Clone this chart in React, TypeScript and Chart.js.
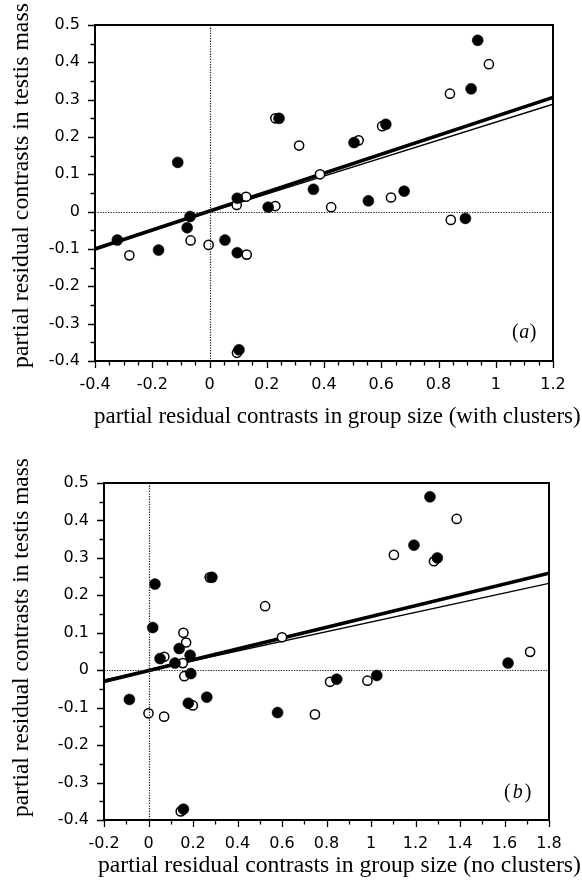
import React, { useEffect, useRef } from "react";
import { Chart, registerables } from "chart.js";
Chart.register(...registerables);

type P = [number, number];

// ---------- Panel (a) data ----------
const aFilled: P[] = [
  [-0.322, -0.076], [-0.178, -0.103], [-0.111, 0.132], [-0.078, -0.043], [-0.068, -0.013],
  [0.054, -0.076], [0.097, -0.11], [0.097, 0.036], [0.205, 0.012], [0.103, -0.37],
  [0.243, 0.25], [0.363, 0.06], [0.505, 0.185], [0.555, 0.029], [0.616, 0.234],
  [0.68, 0.055], [0.894, -0.018], [0.914, 0.329], [0.937, 0.459],
];
const aOpen: P[] = [
  [-0.28, -0.117], [-0.066, -0.077], [-0.003, -0.089], [0.095, 0.018], [0.128, 0.04],
  [0.13, -0.115], [0.096, -0.378], [0.23, 0.015], [0.23, 0.25], [0.313, 0.177],
  [0.386, 0.1], [0.425, 0.012], [0.521, 0.191], [0.603, 0.229], [0.634, 0.038],
  [0.843, -0.022], [0.84, 0.316], [0.976, 0.395],
];
const aThick: P[] = [[-0.4, -0.1], [1.2, 0.306]];
const aThin: P[] = [[-0.4, -0.097], [1.2, 0.288]];
const aXTicks = [-0.4, -0.2, 0, 0.2, 0.4, 0.6, 0.8, 1, 1.2];
const aYTicks = [-0.4, -0.3, -0.2, -0.1, 0, 0.1, 0.2, 0.3, 0.4, 0.5];

// ---------- Panel (b) data ----------
const bFilled: P[] = [
  [-0.086, -0.078], [0.019, 0.114], [0.029, 0.23], [0.052, 0.031], [0.119, 0.019],
  [0.138, 0.058], [0.187, 0.04], [0.19, -0.009], [0.179, -0.088], [0.157, -0.371],
  [0.262, -0.072], [0.285, 0.248], [0.58, -0.113], [0.846, -0.024], [1.026, -0.014],
  [1.193, 0.334], [1.265, 0.463], [1.298, 0.3], [1.616, 0.019],
];
const bOpen: P[] = [
  [0.0, -0.115], [0.07, -0.124], [0.071, 0.036], [0.154, 0.019], [0.157, 0.1],
  [0.169, 0.074], [0.161, -0.016], [0.199, -0.094], [0.145, -0.377], [0.275, 0.248],
  [0.524, 0.171], [0.6, 0.088], [0.748, -0.118], [0.816, -0.031], [0.984, -0.028],
  [1.103, 0.308], [1.283, 0.291], [1.385, 0.404], [1.715, 0.049],
];
const bThick: P[] = [[-0.2, -0.03], [1.8, 0.259]];
const bThin: P[] = [[-0.2, -0.026], [1.8, 0.232]];
const bXTicks = [-0.2, 0, 0.2, 0.4, 0.6, 0.8, 1, 1.2, 1.4, 1.6, 1.8];
const bYTicks = [-0.4, -0.3, -0.2, -0.1, 0, 0.1, 0.2, 0.3, 0.4, 0.5];

const yTitle = "partial residual contrasts in testis mass";
const aXTitle = "partial residual contrasts in group size (with clusters)";
const bXTitle = "partial residual contrasts in group size (no clusters)";

const SERIF = '"Liberation Serif", "Times New Roman", serif';
const SANS = '"DejaVu Sans", sans-serif';

type PanelCfg = {
  filled: P[]; open: P[]; thick: P[]; thin: P[];
  xTicks: number[]; yTicks: number[]; xMinor: number; yMinor: number;
  xTitle: string; letter: string;
  area: { l: number; t: number; r: number; b: number };
  xTitleBox: { x0: number; x1: number; base: number };
  yTitleBox: { cx: number; cy: number; len: number };
  labelPos: { x: number; base: number; gap: number };
};

const W = 582;
const H = 444;

const panelA: PanelCfg = {
  filled: aFilled, open: aOpen, thick: aThick, thin: aThin,
  xTicks: aXTicks, yTicks: aYTicks, xMinor: 0.05, yMinor: 0.05,
  xTitle: aXTitle, letter: "a",
  area: { l: 95, t: 25, r: 553, b: 361 },
  xTitleBox: { x0: 94, x1: 581, base: 423 },
  yTitleBox: { cx: 28, cy: 185.5, len: 365 },
  labelPos: { x: 512, base: 338, gap: 0.5 },
};
const panelB: PanelCfg = {
  filled: bFilled, open: bOpen, thick: bThick, thin: bThin,
  xTicks: bXTicks, yTicks: bYTicks, xMinor: 0.1, yMinor: 0.05,
  xTitle: bXTitle, letter: "b",
  area: { l: 104, t: 39, r: 549, b: 376 },
  xTitleBox: { x0: 98, x1: 581, base: 428 },
  yTitleBox: { cx: 28, cy: 193.5, len: 359 },
  labelPos: { x: 504, base: 354, gap: 2 },
};

const fmt = (v: number) => String(Math.round(v * 10) / 10);

function fitSize(ctx: CanvasRenderingContext2D, text: string, target: number, family: string) {
  ctx.font = `100px ${family}`;
  const w = ctx.measureText(text).width;
  return (100 * target) / w;
}

function makePlugin(cfg: PanelCfg) {
  return {
    id: "decor",
    afterDatasetsDraw(chart: any) {
      const { ctx, chartArea: a, scales } = chart;
      const x = scales.x, y = scales.y;
      ctx.save();
      // dotted zero lines
      ctx.strokeStyle = "#222";
      ctx.lineWidth = 1.2;
      ctx.setLineDash([1.3, 1.3]);
      const x0 = Math.round(x.getPixelForValue(0)) + 0.5;
      const y0 = Math.round(y.getPixelForValue(0)) + 0.5;
      ctx.beginPath();
      ctx.moveTo(x0, a.top); ctx.lineTo(x0, a.bottom);
      ctx.moveTo(a.left, y0); ctx.lineTo(a.right, y0);
      ctx.stroke();
      ctx.setLineDash([]);
      // frame
      ctx.strokeStyle = "#000";
      ctx.lineWidth = 2;
      ctx.strokeRect(a.left, a.top, a.right - a.left, a.bottom - a.top);
      // tick marks
      ctx.lineWidth = 1.3;
      const isMajor = (v: number, arr: number[]) => arr.some((t) => Math.abs(t - v) < 1e-6);
      const xmin = cfg.xTicks[0], xmax = cfg.xTicks[cfg.xTicks.length - 1];
      const nx = Math.round((xmax - xmin) / cfg.xMinor);
      ctx.beginPath();
      for (let i = 0; i <= nx; i++) {
        const v = xmin + i * cfg.xMinor;
        const px = Math.round(x.getPixelForValue(v)) + 0.5;
        const len = isMajor(v, cfg.xTicks) ? 7 : 4.5;
        ctx.moveTo(px, a.bottom);
        ctx.lineTo(px, a.bottom + len);
      }
      const ymin = cfg.yTicks[0], ymax = cfg.yTicks[cfg.yTicks.length - 1];
      const ny = Math.round((ymax - ymin) / cfg.yMinor);
      for (let i = 0; i <= ny; i++) {
        const v = ymin + i * cfg.yMinor;
        const py = Math.round(y.getPixelForValue(v)) + 0.5;
        const len = isMajor(v, cfg.yTicks) ? 7 : 4.5;
        ctx.moveTo(a.left, py);
        ctx.lineTo(a.left - len, py);
      }
      ctx.stroke();
      ctx.restore();
    },
    afterDraw(chart: any) {
      const { ctx } = chart;
      ctx.save();
      ctx.fillStyle = "#000";
      // x title
      const xb = cfg.xTitleBox;
      const xs = fitSize(ctx, cfg.xTitle, xb.x1 - xb.x0, SERIF);
      ctx.font = `${xs}px ${SERIF}`;
      ctx.textAlign = "left";
      ctx.textBaseline = "alphabetic";
      ctx.fillText(cfg.xTitle, xb.x0, xb.base);
      // y title
      const yb = cfg.yTitleBox;
      const ys = fitSize(ctx, yTitle, yb.len, SERIF);
      ctx.font = `${ys}px ${SERIF}`;
      ctx.translate(yb.cx, yb.cy);
      ctx.rotate(-Math.PI / 2);
      ctx.textAlign = "center";
      ctx.fillText(yTitle, 0, 0);
      ctx.setTransform(1, 0, 0, 1, 0, 0);
      // panel letter
      const lp = cfg.labelPos;
      ctx.textAlign = "left";
      let cx = lp.x;
      ctx.font = `20px ${SERIF}`;
      ctx.fillText("(", cx, lp.base);
      cx += ctx.measureText("(").width + lp.gap;
      ctx.font = `italic 20px ${SERIF}`;
      ctx.fillText(cfg.letter, cx, lp.base);
      cx += ctx.measureText(cfg.letter).width + lp.gap;
      ctx.font = `20px ${SERIF}`;
      ctx.fillText(")", cx, lp.base);
      ctx.restore();
    },
  };
}

function Panel({ cfg }: { cfg: PanelCfg }) {
  const ref = useRef<HTMLCanvasElement | null>(null);
  useEffect(() => {
    if (!ref.current) return;
    const toPts = (arr: P[]) => arr.map(([x, y]) => ({ x, y }));
    const ar = cfg.area;
    const chart = new Chart(ref.current, {
      type: "scatter",
      data: {
        datasets: [
          {
            label: "filled",
            data: toPts(cfg.filled),
            pointRadius: 5.5,
            pointBackgroundColor: "#000",
            pointBorderColor: "#000",
            pointBorderWidth: 0.5,
            order: 0,
          },
          {
            label: "open",
            data: toPts(cfg.open),
            pointRadius: 4.6,
            pointBackgroundColor: "#fff",
            pointBorderColor: "#000",
            pointBorderWidth: 1.5,
            order: 1,
          },
          {
            label: "thick",
            data: toPts(cfg.thick),
            showLine: true,
            pointRadius: 0,
            borderColor: "#000",
            borderWidth: 3.6,
            order: 2,
          },
          {
            label: "thin",
            data: toPts(cfg.thin),
            showLine: true,
            pointRadius: 0,
            borderColor: "#000",
            borderWidth: 1.4,
            order: 3,
          },
        ],
      },
      options: {
        animation: false,
        responsive: false,
        events: [],
        layout: { padding: { left: 0, top: ar.t, right: W - ar.r, bottom: 0 } },
        plugins: { legend: { display: false }, tooltip: { enabled: false } },
        scales: {
          x: {
            type: "linear",
            min: cfg.xTicks[0],
            max: cfg.xTicks[cfg.xTicks.length - 1],
            grid: { display: false, drawTicks: false },
            border: { display: false },
            afterBuildTicks: (s: any) => { s.ticks = cfg.xTicks.map((v) => ({ value: v })); },
            afterFit: (s: any) => { s.height = H - ar.b; },
            ticks: {
              autoSkip: false,
              maxRotation: 0,
              padding: 14,
              color: "#000",
              font: { family: SANS, size: 16 },
              callback: (v: any) => fmt(Number(v)),
            },
          },
          y: {
            type: "linear",
            min: cfg.yTicks[0],
            max: cfg.yTicks[cfg.yTicks.length - 1],
            grid: { display: false, drawTicks: false },
            border: { display: false },
            afterBuildTicks: (s: any) => { s.ticks = cfg.yTicks.map((v) => ({ value: v })); },
            afterFit: (s: any) => { s.width = ar.l; },
            ticks: {
              autoSkip: false,
              padding: 15,
              color: "#000",
              font: { family: SANS, size: 16 },
              callback: (v: any) => fmt(Number(v)),
            },
          },
        },
      },
      plugins: [makePlugin(cfg)],
    } as any);
    return () => chart.destroy();
  }, [cfg]);
  return <canvas ref={ref} width={W} height={H} style={{ display: "block", width: W, height: H }} />;
}

export default function App() {
  return (
    <div style={{ position: "absolute", left: 0, top: 0, width: W, height: 2 * H, background: "#fff" }}>
      <Panel cfg={panelA} />
      <Panel cfg={panelB} />
    </div>
  );
}
